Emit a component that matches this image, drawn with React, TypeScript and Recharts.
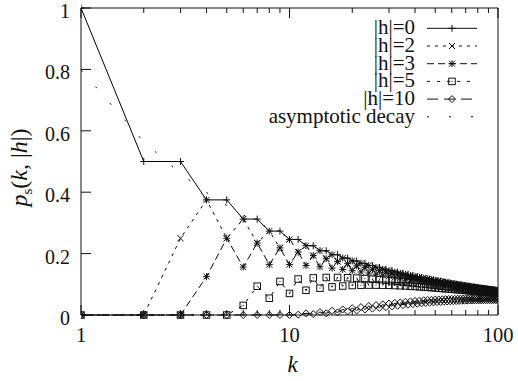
import React from "react";
import { LineChart, Line, XAxis, YAxis, Legend } from "recharts";

const K = [
  1, 2, 3, 4, 5, 6, 7, 8, 9, 10, 11, 12, 13, 14, 15, 16, 17, 18, 19, 20,
  21, 22, 23, 24, 25, 26, 27, 28, 29, 30, 31, 32, 33, 34, 35, 36, 37, 38, 39, 40,
  41, 42, 43, 44, 45, 46, 47, 48, 49, 50, 51, 52, 53, 54, 55, 56, 57, 58, 59, 60,
  61, 62, 63, 64, 65, 66, 67, 68, 69, 70, 71, 72, 73, 74, 75, 76, 77, 78, 79, 80,
  81, 82, 83, 84, 85, 86, 87, 88, 89, 90, 91, 92, 93, 94, 95, 96, 97, 98, 99, 100,
];

const H0 = [
  1, 0.5, 0.5, 0.375, 0.375, 0.3125, 0.3125, 0.2734, 0.2734, 0.2461,
  0.2461, 0.2256, 0.2256, 0.2095, 0.2095, 0.1964, 0.1964, 0.1855, 0.1855, 0.1762,
  0.1762, 0.1682, 0.1682, 0.1612, 0.1612, 0.155, 0.155, 0.1494, 0.1494, 0.1445,
  0.1445, 0.1399, 0.1399, 0.1358, 0.1358, 0.1321, 0.1321, 0.1286, 0.1286, 0.1254,
  0.1254, 0.1224, 0.1224, 0.1196, 0.1196, 0.117, 0.117, 0.1146, 0.1146, 0.1123,
  0.1123, 0.1101, 0.1101, 0.1081, 0.1081, 0.1061, 0.1061, 0.1043, 0.1043, 0.1026,
  0.1026, 0.1009, 0.1009, 0.0994, 0.0994, 0.0978, 0.0978, 0.0964, 0.0964, 0.095,
  0.095, 0.0937, 0.0937, 0.0924, 0.0924, 0.0912, 0.0912, 0.0901, 0.0901, 0.0889,
  0.0889, 0.0878, 0.0878, 0.0868, 0.0868, 0.0858, 0.0858, 0.0848, 0.0848, 0.0839,
  0.0839, 0.083, 0.083, 0.0821, 0.0821, 0.0812, 0.0812, 0.0804, 0.0804, 0.0796,
];

const H2 = [
  0, 0, 0.25, 0.375, 0.25, 0.3125, 0.2344, 0.2734, 0.2187, 0.2461,
  0.2051, 0.2256, 0.1934, 0.2095, 0.1833, 0.1964, 0.1746, 0.1855, 0.167, 0.1762,
  0.1602, 0.1682, 0.1542, 0.1612, 0.1488, 0.155, 0.1439, 0.1494, 0.1394, 0.1445,
  0.1355, 0.1399, 0.1317, 0.1358, 0.1283, 0.1321, 0.1251, 0.1286, 0.1222, 0.1254,
  0.1194, 0.1224, 0.1168, 0.1196, 0.1144, 0.117, 0.1121, 0.1146, 0.11, 0.1123,
  0.108, 0.1101, 0.106, 0.1081, 0.1042, 0.1061, 0.1024, 0.1043, 0.1008, 0.1026,
  0.0993, 0.1009, 0.0977, 0.0994, 0.0964, 0.0978, 0.0949, 0.0964, 0.0936, 0.095,
  0.0924, 0.0937, 0.0912, 0.0924, 0.09, 0.0912, 0.0889, 0.0901, 0.0878, 0.0889,
  0.0867, 0.0878, 0.0857, 0.0868, 0.0848, 0.0858, 0.0839, 0.0848, 0.0829, 0.0839,
  0.0821, 0.083, 0.0812, 0.0821, 0.0804, 0.0812, 0.0795, 0.0804, 0.0788, 0.0796,
];

const H3 = [
  0, 0, 0, 0.125, 0.25, 0.1563, 0.2344, 0.164, 0.2187, 0.1641,
  0.2051, 0.1611, 0.1934, 0.1571, 0.1833, 0.1528, 0.1746, 0.1484, 0.167, 0.1442,
  0.1602, 0.1402, 0.1542, 0.1364, 0.1488, 0.1329, 0.1439, 0.1295, 0.1394, 0.1264,
  0.1355, 0.1234, 0.1317, 0.1207, 0.1283, 0.1182, 0.1251, 0.1157, 0.1222, 0.1135,
  0.1194, 0.1113, 0.1168, 0.1092, 0.1144, 0.1073, 0.1121, 0.1054, 0.11, 0.1037,
  0.108, 0.1019, 0.106, 0.1004, 0.1042, 0.0988, 0.1024, 0.0973, 0.1008, 0.096,
  0.0993, 0.0946, 0.0977, 0.0934, 0.0964, 0.092, 0.0949, 0.0909, 0.0936, 0.0897,
  0.0924, 0.0886, 0.0912, 0.0875, 0.09, 0.0865, 0.0889, 0.0856, 0.0878, 0.0846,
  0.0867, 0.0836, 0.0857, 0.0828, 0.0848, 0.0819, 0.0839, 0.081, 0.0829, 0.0803,
  0.0821, 0.0795, 0.0812, 0.0787, 0.0804, 0.0779, 0.0795, 0.0772, 0.0788, 0.0765,
];

const H5 = [
  0, 0, 0, 0, 0, 0.0313, 0.0938, 0.0547, 0.1094, 0.0703,
  0.1172, 0.0806, 0.1209, 0.0873, 0.1222, 0.0917, 0.1222, 0.0944, 0.1214, 0.0961,
  0.1201, 0.097, 0.1186, 0.0974, 0.1169, 0.0974, 0.1151, 0.0971, 0.1133, 0.0967,
  0.1116, 0.096, 0.1097, 0.0953, 0.108, 0.0946, 0.1064, 0.0937, 0.1047, 0.0928,
  0.1031, 0.0919, 0.1016, 0.091, 0.1001, 0.0901, 0.0987, 0.0892, 0.0973, 0.0883,
  0.096, 0.0874, 0.0947, 0.0865, 0.0935, 0.0856, 0.0922, 0.0848, 0.0911, 0.084,
  0.09, 0.0831, 0.0889, 0.0824, 0.0879, 0.0815, 0.0868, 0.0808, 0.0858, 0.08,
  0.0849, 0.0793, 0.084, 0.0786, 0.083, 0.0779, 0.0822, 0.0772, 0.0814, 0.0765,
  0.0805, 0.0758, 0.0797, 0.0752, 0.079, 0.0746, 0.0783, 0.074, 0.0775, 0.0734,
  0.0768, 0.0728, 0.0762, 0.0723, 0.0755, 0.0717, 0.0748, 0.0711, 0.0742, 0.0706,
];

const H10 = [
  0, 0, 0, 0, 0, 0, 0, 0, 0, 0,
  0.001, 0.0054, 0.0029, 0.0095, 0.0056, 0.0139, 0.0086, 0.0182, 0.0117, 0.0222,
  0.0148, 0.0259, 0.0178, 0.0292, 0.0206, 0.0322, 0.0233, 0.0349, 0.0257, 0.0373,
  0.028, 0.0394, 0.03, 0.0413, 0.0319, 0.043, 0.0336, 0.0444, 0.0352, 0.0457,
  0.0366, 0.0469, 0.0379, 0.0479, 0.039, 0.0488, 0.0401, 0.0496, 0.041, 0.0502,
  0.0419, 0.0508, 0.0426, 0.0514, 0.0433, 0.0518, 0.0439, 0.0522, 0.0445, 0.0525,
  0.045, 0.0528, 0.0455, 0.0531, 0.0459, 0.0533, 0.0463, 0.0534, 0.0466, 0.0536,
  0.0469, 0.0537, 0.0471, 0.0537, 0.0474, 0.0538, 0.0476, 0.0539, 0.0478, 0.0539,
  0.0479, 0.0539, 0.048, 0.0539, 0.0481, 0.0538, 0.0482, 0.0538, 0.0483, 0.0538,
  0.0484, 0.0537, 0.0484, 0.0536, 0.0485, 0.0535, 0.0485, 0.0534, 0.0485, 0.0533,
];

const ASYMPTOTIC = [
  0.7979, 0.5642, 0.4607, 0.3989, 0.3568, 0.3257, 0.3016, 0.2821, 0.266, 0.2523,
  0.2406, 0.2303, 0.2213, 0.2132, 0.206, 0.1995, 0.1935, 0.1881, 0.183, 0.1784,
  0.1741, 0.1701, 0.1664, 0.1629, 0.1596, 0.1565, 0.1536, 0.1508, 0.1482, 0.1457,
  0.1433, 0.141, 0.1389, 0.1368, 0.1349, 0.133, 0.1312, 0.1294, 0.1278, 0.1262,
  0.1246, 0.1231, 0.1217, 0.1203, 0.1189, 0.1176, 0.1164, 0.1152, 0.114, 0.1128,
  0.1117, 0.1106, 0.1096, 0.1086, 0.1076, 0.1066, 0.1057, 0.1048, 0.1039, 0.103,
  0.1022, 0.1013, 0.1005, 0.0997, 0.099, 0.0982, 0.0975, 0.0968, 0.0961, 0.0954,
  0.0947, 0.094, 0.0934, 0.0928, 0.0921, 0.0915, 0.0909, 0.0903, 0.0898, 0.0892,
  0.0887, 0.0881, 0.0876, 0.0871, 0.0865, 0.086, 0.0855, 0.0851, 0.0846, 0.0841,
  0.0836, 0.0832, 0.0827, 0.0823, 0.0819, 0.0814, 0.081, 0.0806, 0.0802, 0.0798,
];

const X_TICKS = [1, 2, 3, 4, 5, 6, 7, 8, 9, 10, 20, 30, 40, 50, 60, 70, 80, 90, 100];
const X_LABELED = [1, 10, 100];
const Y_TICKS = [0, 0.2, 0.4, 0.6, 0.8, 1];

const data = K.map((k, i) => ({
  k,
  h0: H0[i],
  h2: H2[i],
  h3: H3[i],
  h5: H5[i],
  h10: H10[i],
  asym: ASYMPTOTIC[i],
}));

const SERIES = [
  { key: "h0", name: "|h|=0", dash: undefined, mark: "plus" },
  { key: "h2", name: "|h|=2", dash: "3 5", mark: "cross" },
  { key: "h3", name: "|h|=3", dash: "7 4", mark: "star" },
  { key: "h5", name: "|h|=5", dash: "3 7", mark: "box" },
  { key: "h10", name: "|h|=10", dash: "11 6", mark: "diamond" },
  { key: "asym", name: "asymptotic decay", dash: "2 20", mark: null },
];

const SERIF = { fontFamily: "Liberation Serif" };
const INK = "#111";

function Mark({ kind, cx, cy }: { kind: string | null; cx: number; cy: number }) {
  const s = { stroke: INK, strokeWidth: 1, fill: "none" };
  switch (kind) {
    case "plus":
      return <path {...s} d={`M${cx - 3.5} ${cy}h7M${cx} ${cy - 3.5}v7`} />;
    case "cross":
      return <path {...s} d={`M${cx - 3} ${cy - 3}l6 6M${cx - 3} ${cy + 3}l6 -6`} />;
    case "star":
      return (
        <path
          {...s}
          d={`M${cx - 3.5} ${cy}h7M${cx} ${cy - 3.5}v7M${cx - 3} ${cy - 3}l6 6M${cx - 3} ${cy + 3}l6 -6`}
        />
      );
    case "box":
      return (
        <g>
          <rect {...s} x={cx - 3.25} y={cy - 3.25} width={6.5} height={6.5} />
          <rect x={cx - 0.5} y={cy - 0.5} width={1} height={1} fill={INK} />
        </g>
      );
    case "diamond":
      return <path {...s} d={`M${cx} ${cy - 3.5}l3.5 3.5l-3.5 3.5l-3.5 -3.5z`} />;
    default:
      return null;
  }
}

function BottomTick({ x, y, payload }: any) {
  const major = X_LABELED.includes(payload.value);
  return (
    <g>
      <line x1={x} x2={x} y1={y} y2={y - (major ? 10 : 5)} stroke={INK} />
      {major && (
        <text x={x} y={y + 27} textAnchor="middle" style={SERIF} fontSize={20.5} fill={INK}>
          {payload.value}
        </text>
      )}
    </g>
  );
}

function TopTick({ x, y, payload }: any) {
  const major = X_LABELED.includes(payload.value);
  return <line x1={x} x2={x} y1={y} y2={y + (major ? 10 : 5)} stroke={INK} />;
}

function LeftTick({ x, y, payload }: any) {
  return (
    <g>
      <line x1={x} x2={x + 10} y1={y} y2={y} stroke={INK} />
      <text x={x - 11} y={y + 10} textAnchor="end" style={SERIF} fontSize={20} fill={INK}>
        {String(payload.value)}
      </text>
    </g>
  );
}

function RightTick({ x, y }: any) {
  return <line x1={x} x2={x - 10} y1={y} y2={y} stroke={INK} />;
}

function XLabel({ viewBox }: any) {
  const { x, y, width } = viewBox;
  return (
    <text x={x + width / 2 + 3} y={y + 57} textAnchor="middle" style={SERIF} fontSize={23} fontStyle="italic" fill={INK}>
      k
    </text>
  );
}

function YLabel({ viewBox }: any) {
  const cx = viewBox.x + 6;
  const cy = viewBox.y + viewBox.height / 2 + 6;
  return (
    <text
      x={cx}
      y={cy}
      transform={`rotate(-90 ${cx} ${cy})`}
      textAnchor="middle"
      style={SERIF}
      fontSize={24}
      fill={INK}
    >
      <tspan fontStyle="italic">p</tspan>
      <tspan fontSize={15} dy={5}>s</tspan>
      <tspan dy={-5}>(</tspan>
      <tspan fontStyle="italic">k</tspan>
      <tspan>, |</tspan>
      <tspan fontStyle="italic">h</tspan>
      <tspan>|)</tspan>
    </text>
  );
}

function LegendBox() {
  return (
    <svg width={240} height={115} style={{ display: "block" }}>
      {SERIES.map((s, i) => {
        const cy = 14.3 + i * 17.7;
        return (
          <g key={s.key}>
            <text x={165} y={cy + 6} textAnchor="end" style={SERIF} fontSize={21} fill={INK}>
              {s.name}
            </text>
            <line x1={177} x2={227} y1={cy} y2={cy} stroke={INK} strokeWidth={1} strokeDasharray={s.dash} />
            <Mark kind={s.mark} cx={202} cy={cy} />
          </g>
        );
      })}
    </svg>
  );
}

export default function App() {
  return (
    <div style={{ position: "absolute", left: 0, top: 0, width: 518, height: 381, background: "#fff", ...SERIF }}>
      <LineChart width={518} height={381} data={data} margin={{ top: 6, right: 18, bottom: 26, left: 21 }}>
        <XAxis
          dataKey="k"
          type="number"
          scale="log"
          domain={[1, 100]}
          allowDataOverflow
          ticks={X_TICKS}
          interval={0}
          tickSize={0}
          tickMargin={0}
          tickLine={false}
          tick={(p: any) => <BottomTick {...p} />}
          axisLine={{ stroke: INK }}
          height={40}
          label={(p: any) => <XLabel viewBox={p.viewBox} />}
        />
        <XAxis
          xAxisId="top"
          orientation="top"
          dataKey="k"
          type="number"
          scale="log"
          domain={[1, 100]}
          allowDataOverflow
          ticks={X_TICKS}
          interval={0}
          tickSize={0}
          tickMargin={0}
          tickLine={false}
          tick={(p: any) => <TopTick {...p} />}
          axisLine={{ stroke: INK }}
          height={2}
        />
        <YAxis
          type="number"
          domain={[0, 1]}
          ticks={Y_TICKS}
          interval={0}
          tickSize={0}
          tickMargin={0}
          tickLine={false}
          tick={(p: any) => <LeftTick {...p} />}
          axisLine={{ stroke: INK }}
          width={60}
          label={(p: any) => <YLabel viewBox={p.viewBox} />}
        />
        <YAxis
          yAxisId="right"
          orientation="right"
          type="number"
          domain={[0, 1]}
          ticks={Y_TICKS}
          interval={0}
          tickSize={0}
          tickMargin={0}
          tickLine={false}
          tick={(p: any) => <RightTick {...p} />}
          axisLine={{ stroke: INK }}
          width={2}
        />
        <Legend
          layout="vertical"
          align="center"
          verticalAlign="middle"
          content={() => <LegendBox />}
          wrapperStyle={{ left: 250, top: 14, width: 240, height: 115 }}
        />
        {SERIES.map((s) => (
          <Line
            key={s.key}
            dataKey={s.key}
            name={s.name}
            type="linear"
            stroke="#000"
            strokeWidth={1}
            strokeDasharray={s.dash}
            isAnimationActive={false}
            activeDot={false}
            dot={
              s.mark
                ? (p: any) => <Mark key={`${s.key}-${p.index}`} kind={s.mark} cx={p.cx} cy={p.cy} />
                : false
            }
          />
        ))}
      </LineChart>
    </div>
  );
}
